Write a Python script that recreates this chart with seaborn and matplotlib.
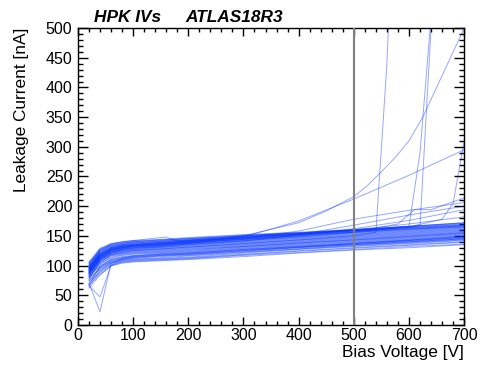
import pandas as pd
import seaborn as sns
from matplotlib import pyplot as plt
from matplotlib.ticker import MultipleLocator

sns.set_theme(style="ticks")
plt.rcParams['font.family'] = ['Liberation Sans', 'DejaVu Sans']
plt.rcParams['text.color'] = 'black'
plt.rcParams['axes.labelcolor'] = 'black'
plt.rcParams['xtick.color'] = 'black'
plt.rcParams['ytick.color'] = 'black'

# common bias-voltage grid for the bulk of the sensors
volts = [20, 40, 60, 80, 100, 150, 200, 300, 400, 500, 600, 700]

band_low = [
    [62, 84, 99, 104, 106, 108, 110, 115, 121, 126, 130, 135],
    [68, 85, 100, 105, 107, 109, 111, 117, 122, 127, 132, 136],
    [74, 88, 101, 106, 108, 110, 112, 118, 124, 129, 134, 139],
    [65, 90, 103, 107, 109, 111, 113, 119, 125, 130, 135, 140],
    [80, 93, 104, 108, 110, 112, 114, 121, 127, 132, 137, 142],
    [70, 91, 105, 109, 111, 113, 116, 122, 128, 133, 138, 143],
    [77, 95, 106, 110, 112, 115, 117, 123, 128, 134, 139, 144],
    [85, 97, 108, 111, 113, 116, 118, 124, 130, 135, 140, 145],
    [73, 96, 107, 112, 114, 117, 119, 125, 131, 136, 141, 146],
    [82, 99, 109, 113, 115, 118, 120, 126, 131, 137, 142, 147],
    [88, 101, 111, 114, 116, 119, 121, 127, 132, 137, 143, 148],
    [67, 98, 110, 115, 117, 120, 122, 128, 133, 138, 143, 149],
]

band_mid = [
    [90, 104, 113, 117, 119, 121, 123, 129, 134, 139, 144, 149],
    [79, 103, 114, 118, 120, 122, 124, 130, 135, 140, 145, 150],
    [92, 107, 116, 119, 121, 123, 125, 131, 136, 141, 146, 151],
    [84, 106, 117, 120, 122, 124, 126, 132, 137, 142, 147, 152],
    [95, 110, 118, 121, 123, 125, 127, 132, 138, 143, 148, 153],
    [87, 108, 119, 122, 124, 126, 128, 133, 138, 143, 149, 154],
    [76, 109, 120, 123, 125, 127, 129, 134, 139, 144, 149, 155],
    [93, 112, 121, 124, 126, 128, 130, 135, 140, 145, 150, 155],
    [98, 113, 122, 125, 127, 129, 131, 136, 141, 146, 151, 156],
    [86, 111, 121, 125, 127, 130, 132, 137, 142, 147, 152, 157],
    [94, 115, 123, 126, 128, 131, 133, 138, 143, 148, 153, 158],
    [81, 114, 124, 127, 129, 131, 134, 139, 144, 149, 154, 159],
    [99, 117, 125, 128, 130, 132, 135, 140, 145, 150, 155, 160],
    [91, 116, 126, 129, 131, 133, 136, 141, 146, 151, 156, 161],
    [96, 118, 127, 130, 132, 134, 137, 142, 147, 152, 157, 162],
    [89, 119, 128, 131, 133, 135, 138, 143, 148, 153, 158, 163],
]

band_high = [
    [101, 120, 129, 132, 134, 136, 139, 144, 149, 154, 159, 164],
    [97, 121, 130, 133, 135, 137, 140, 145, 150, 155, 160, 165],
    [103, 123, 131, 134, 136, 138, 141, 146, 151, 156, 161, 166],
    [100, 124, 132, 135, 137, 139, 142, 147, 152, 157, 162, 167],
    [105, 126, 133, 136, 138, 140, 143, 148, 153, 158, 163, 168],
    [102, 125, 134, 137, 139, 141, 144, 149, 154, 159, 164, 169],
    [104, 128, 135, 138, 140, 142, 145, 150, 155, 160, 165, 170],
    [99, 127, 136, 139, 141, 143, 146, 151, 155, 160, 166, 171],
    [106, 129, 137, 140, 142, 144, 147, 152, 156, 161, 166, 172],
    [95, 122, 133, 137, 140, 143, 145, 150, 154, 159, 164, 168],
    [88, 118, 130, 135, 138, 141, 143, 148, 153, 158, 162, 167],
    [83, 112, 126, 132, 135, 139, 142, 147, 152, 156, 161, 165],
]

# sensors with a dip at 40 V
band_dips = [
    [66, 47, 100, 110, 114, 117, 119, 125, 130, 135, 140, 145],
    [70, 22, 104, 112, 116, 119, 121, 127, 132, 137, 142, 147],
]

# sensors rising above the band towards high voltage
band_rising = [
    [90, 114, 124, 128, 131, 134, 137, 148, 175, 212, 252, 295],
    [94, 118, 128, 132, 134, 137, 140, 146, 158, 178, 193, 206],
    [86, 110, 121, 126, 129, 132, 135, 141, 152, 168, 185, 200],
    [92, 116, 127, 131, 133, 136, 138, 144, 150, 162, 176, 194],
    [97, 120, 130, 134, 136, 139, 141, 147, 153, 160, 170, 182],
]

# sensors with their own voltage steps
volts_bump = [20, 40, 60, 80, 100, 160, 180, 220, 300, 400, 500, 600, 700]
cur_bump = [95, 125, 136, 140, 142, 148, 141, 144, 150, 155, 160, 166, 172]

volts_bd1 = [20, 40, 60, 80, 100, 150, 200, 300, 400, 500, 540, 560, 580]
cur_bd1 = [80, 105, 118, 122, 125, 128, 131, 137, 143, 150, 156, 440, 900]

volts_bd2 = [20, 40, 60, 80, 100, 150, 200, 300, 400, 500, 600, 620, 640]
cur_bd2 = [92, 116, 126, 130, 133, 136, 139, 145, 152, 158, 166, 290, 520]

volts_bd3 = [20, 40, 60, 80, 100, 150, 200, 300, 400, 500, 600, 620, 640, 660]
cur_bd3 = [97, 120, 129, 133, 135, 138, 141, 147, 153, 159, 164, 168, 500, 900]

volts_exp = [20, 40, 60, 80, 100, 150, 200, 300, 400, 450, 500, 525, 550, 575,
             600, 625, 650, 675, 700]
cur_exp = [85, 112, 125, 130, 133, 136, 139, 150, 172, 192, 216, 235, 258, 282,
           310, 350, 400, 450, 500]

volts_late = [20, 40, 60, 80, 100, 150, 200, 300, 400, 500, 600, 660, 680, 700]
cur_late = [88, 110, 122, 127, 130, 133, 136, 142, 148, 156, 165, 178, 205, 310]

volts_step = [20, 40, 60, 80, 100, 150, 200, 300, 400, 500, 580, 610, 640, 700]
cur_step = [91, 115, 125, 129, 132, 135, 138, 144, 150, 156, 170, 194, 194, 214]

rows = []
for k, cur in enumerate(band_low + band_mid + band_high + band_dips + band_rising):
    for v, c in zip(volts, cur):
        rows.append({'sensor': 'grid%02d' % k, 'Bias Voltage [V]': v, 'Leakage Current [nA]': c})
extra = [(volts_bump, cur_bump), (volts_bd1, cur_bd1), (volts_bd2, cur_bd2),
         (volts_bd3, cur_bd3), (volts_exp, cur_exp), (volts_late, cur_late),
         (volts_step, cur_step)]
for k, (vv, cc) in enumerate(extra):
    for v, c in zip(vv, cc):
        rows.append({'sensor': 'extra%02d' % k, 'Bias Voltage [V]': v, 'Leakage Current [nA]': c})
df = pd.DataFrame(rows)

fig = plt.figure(figsize=(4.81, 3.65), dpi=100)
ax = fig.add_axes([0.162, 0.110, 0.803, 0.813])

sns.lineplot(data=df, x='Bias Voltage [V]', y='Leakage Current [nA]',
             units='sensor', estimator=None, sort=False, legend=False,
             color='#0030ff', alpha=0.42, linewidth=0.7, ax=ax)

ax.axvline(500, color='#808080', linewidth=1.5, zorder=5)

ax.set_xlim(0, 700)
ax.set_ylim(0, 500)
ax.xaxis.set_major_locator(MultipleLocator(100))
ax.xaxis.set_minor_locator(MultipleLocator(20))
ax.yaxis.set_major_locator(MultipleLocator(50))
ax.yaxis.set_minor_locator(MultipleLocator(10))
ax.tick_params(which='both', direction='in', top=True, right=True,
               labelsize=11.5, color='black', labelcolor='black', width=1)
ax.tick_params(axis='x', which='major', length=5.8, pad=2)
ax.tick_params(axis='x', which='minor', length=2.9)
ax.tick_params(axis='y', which='major', length=7.2, pad=4)
ax.tick_params(axis='y', which='minor', length=3.6)
for s in ax.spines.values():
    s.set_color('black')
    s.set_linewidth(1)

ax.set_xlabel('Bias Voltage [V]', fontsize=12.4, loc='right', labelpad=2, color='black')
ax.set_ylabel('Leakage Current [nA]', fontsize=12.4, loc='top', labelpad=12, color='black')

fig.text(94 / 481, 1 - 22 / 365, 'HPK IVs', fontsize=12.4, fontweight='bold',
         fontstyle='italic', color='black')
fig.text(185 / 481, 1 - 22 / 365, 'ATLAS18R3', fontsize=12.4, fontweight='bold',
         fontstyle='italic', color='black')

plt.savefig('out.png', dpi=100)
